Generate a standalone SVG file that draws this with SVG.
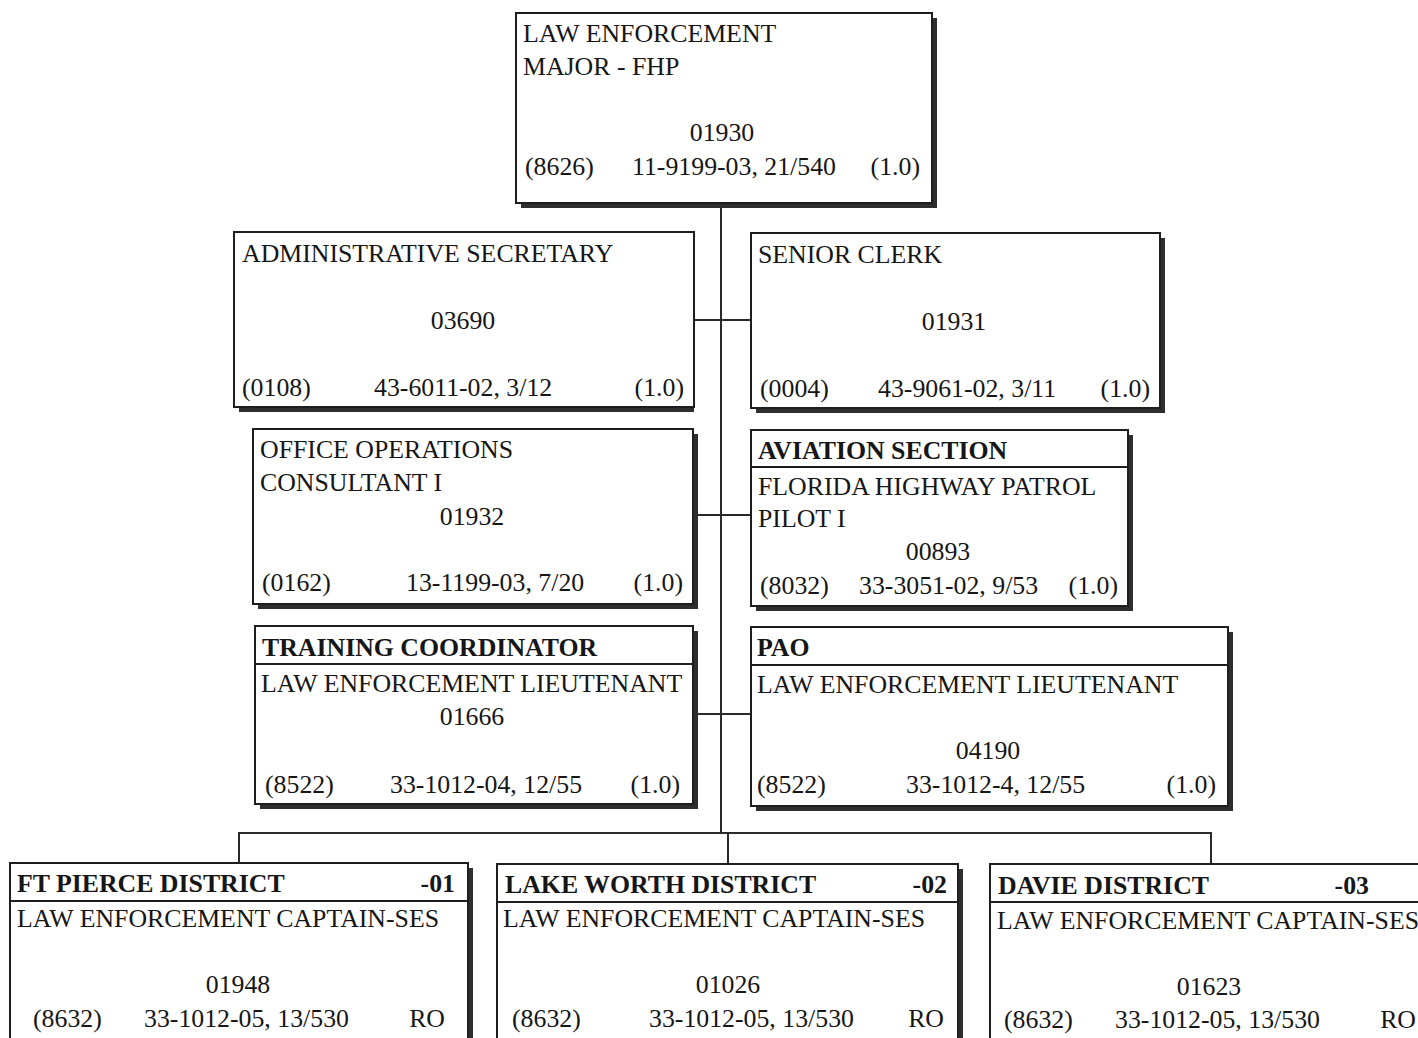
<svg xmlns="http://www.w3.org/2000/svg" width="1418" height="1038" viewBox="0 0 1418 1038">
  <style>
    .shadow { fill: #2e2e2e; }
    .box { fill: #ffffff; stroke: #1e1e1e; stroke-width: 2; }
    .rule { stroke: #1e1e1e; stroke-width: 2; }
    .wire { stroke: #2a2a2a; stroke-width: 2; fill: none; }
    text { font-family: "Liberation Serif", "Times New Roman", serif; font-size: 25.8px; fill: #161616; }
    .b { font-weight: bold; }
    .c { text-anchor: middle; }
    .r { text-anchor: end; }
  </style>

  <rect width="1418" height="1038" fill="#ffffff"/>

  <!-- reporting lines -->
  <g id="connectors">
    <line class="wire" x1="721" y1="203" x2="721" y2="833"/>
    <line class="wire" x1="694" y1="320" x2="751" y2="320"/>
    <line class="wire" x1="693" y1="515" x2="751" y2="515"/>
    <line class="wire" x1="693" y1="714" x2="751" y2="714"/>
    <line class="wire" x1="238" y1="833" x2="1211" y2="833"/>
    <line class="wire" x1="239" y1="833" x2="239" y2="863"/>
    <line class="wire" x1="728" y1="833" x2="728" y2="864"/>
    <line class="wire" x1="1211" y1="832" x2="1211" y2="864"/>
  </g>

  <!-- Law Enforcement Major -->
  <g id="major">
    <rect class="shadow" x="521" y="18" width="416" height="190"/>
    <rect class="box" x="516" y="13" width="416" height="190"/>
    <text x="523" y="42">LAW ENFORCEMENT</text>
    <text x="523" y="75">MAJOR - FHP</text>
    <text class="c" x="722" y="141">01930</text>
    <text x="525" y="175">(8626)</text>
    <text x="632" y="175">11-9199-03, 21/540</text>
    <text class="r" x="920" y="175">(1.0)</text>
  </g>

  <!-- Administrative Secretary -->
  <g id="admin-secretary">
    <rect class="shadow" x="239" y="237" width="455" height="175"/>
    <rect class="box" x="234" y="232" width="460" height="175"/>
    <text x="242" y="262">ADMINISTRATIVE SECRETARY</text>
    <text class="c" x="463" y="329">03690</text>
    <text x="242" y="396">(0108)</text>
    <text x="374" y="396">43-6011-02, 3/12</text>
    <text class="r" x="684" y="396">(1.0)</text>
  </g>

  <!-- Senior Clerk -->
  <g id="senior-clerk">
    <rect class="shadow" x="756" y="238" width="409" height="175"/>
    <rect class="box" x="751" y="233" width="409" height="175"/>
    <text x="758" y="263">SENIOR CLERK</text>
    <text class="c" x="954" y="330">01931</text>
    <text x="760" y="397">(0004)</text>
    <text x="878" y="397">43-9061-02, 3/11</text>
    <text class="r" x="1150" y="397">(1.0)</text>
  </g>

  <!-- Office Operations Consultant I -->
  <g id="office-ops">
    <rect class="shadow" x="258" y="434" width="440" height="175"/>
    <rect class="box" x="253" y="429" width="440" height="175"/>
    <text x="260" y="458">OFFICE OPERATIONS</text>
    <text x="260" y="491">CONSULTANT I</text>
    <text class="c" x="472" y="525">01932</text>
    <text x="262" y="591">(0162)</text>
    <text x="406" y="591">13-1199-03, 7/20</text>
    <text class="r" x="683" y="591">(1.0)</text>
  </g>

  <!-- Aviation Section -->
  <g id="aviation">
    <rect class="shadow" x="756" y="435" width="377" height="176"/>
    <rect class="box" x="751" y="430" width="377" height="176"/>
    <line class="rule" x1="751" y1="467" x2="1128" y2="467"/>
    <text class="b" x="758" y="459">AVIATION SECTION</text>
    <text x="758" y="495">FLORIDA HIGHWAY PATROL</text>
    <text x="758" y="527">PILOT I</text>
    <text class="c" x="938" y="560">00893</text>
    <text x="760" y="594">(8032)</text>
    <text x="859" y="594">33-3051-02, 9/53</text>
    <text class="r" x="1118" y="594">(1.0)</text>
  </g>

  <!-- Training Coordinator -->
  <g id="training">
    <rect class="shadow" x="260" y="631" width="438" height="178"/>
    <rect class="box" x="255" y="626" width="438" height="178"/>
    <line class="rule" x1="255" y1="664" x2="693" y2="664"/>
    <text class="b" x="262" y="656">TRAINING COORDINATOR</text>
    <text x="261" y="692">LAW ENFORCEMENT LIEUTENANT</text>
    <text class="c" x="472" y="725">01666</text>
    <text x="265" y="793">(8522)</text>
    <text x="390" y="793">33-1012-04, 12/55</text>
    <text class="r" x="680" y="793">(1.0)</text>
  </g>

  <!-- PAO -->
  <g id="pao">
    <rect class="shadow" x="756" y="632" width="477" height="179"/>
    <rect class="box" x="751" y="627" width="477" height="179"/>
    <line class="rule" x1="751" y1="665" x2="1228" y2="665"/>
    <text class="b" x="757" y="656">PAO</text>
    <text x="757" y="693">LAW ENFORCEMENT LIEUTENANT</text>
    <text class="c" x="988" y="759">04190</text>
    <text x="757" y="793">(8522)</text>
    <text x="906" y="793">33-1012-4, 12/55</text>
    <text class="r" x="1216" y="793">(1.0)</text>
  </g>

  <!-- Ft Pierce District -->
  <g id="ft-pierce">
    <rect class="shadow" x="15" y="868" width="458" height="200"/>
    <rect class="box" x="10" y="863" width="458" height="200"/>
    <line class="rule" x1="10" y1="901" x2="468" y2="901"/>
    <text class="b" x="17" y="892">FT PIERCE DISTRICT</text>
    <text class="b r" x="455" y="892">-01</text>
    <text x="17" y="927">LAW ENFORCEMENT CAPTAIN-SES</text>
    <text class="c" x="238" y="993">01948</text>
    <text x="33" y="1027">(8632)</text>
    <text x="144" y="1027">33-1012-05, 13/530</text>
    <text class="r" x="445" y="1027">RO</text>
  </g>

  <!-- Lake Worth District -->
  <g id="lake-worth">
    <rect class="shadow" x="502" y="869" width="461" height="200"/>
    <rect class="box" x="497" y="864" width="461" height="200"/>
    <line class="rule" x1="497" y1="902" x2="958" y2="902"/>
    <text class="b" x="505" y="893">LAKE WORTH DISTRICT</text>
    <text class="b r" x="947" y="893">-02</text>
    <text x="503" y="927">LAW ENFORCEMENT CAPTAIN-SES</text>
    <text class="c" x="728" y="993">01026</text>
    <text x="512" y="1027">(8632)</text>
    <text x="649" y="1027">33-1012-05, 13/530</text>
    <text class="r" x="944" y="1027">RO</text>
  </g>

  <!-- Davie District -->
  <g id="davie">
    <rect class="box" x="990" y="864" width="460" height="200"/>
    <line class="rule" x1="990" y1="902" x2="1450" y2="902"/>
    <text class="b" x="998" y="894">DAVIE DISTRICT</text>
    <text class="b r" x="1369" y="894">-03</text>
    <text x="997" y="929">LAW ENFORCEMENT CAPTAIN-SES</text>
    <text class="c" x="1209" y="995">01623</text>
    <text x="1004" y="1028">(8632)</text>
    <text x="1115" y="1028">33-1012-05, 13/530</text>
    <text class="r" x="1416" y="1028">RO</text>
  </g>
</svg>
